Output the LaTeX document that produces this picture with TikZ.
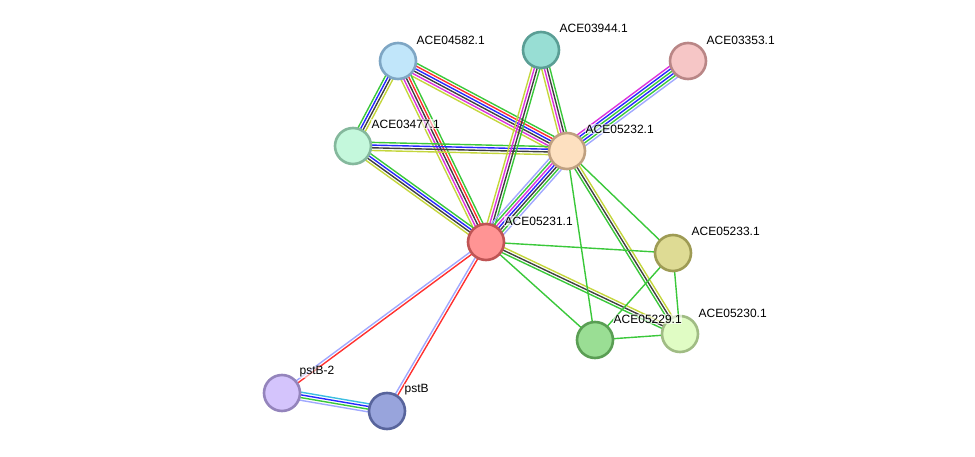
\documentclass[tikz,border=0pt]{standalone}
\usepackage{fontspec}
\setmainfont{Liberation Sans}
\usetikzlibrary{calc}
\pgfdeclarelayer{bg}\pgfsetlayers{bg,main}
\definecolor{cgreen}{RGB}{58,200,58}
\definecolor{cred}{RGB}{255,48,48}
\definecolor{cblue}{RGB}{40,40,255}
\definecolor{cblack}{RGB}{64,64,64}
\definecolor{cmag}{RGB}{220,50,220}
\definecolor{cyel}{RGB}{196,214,60}
\definecolor{cpur}{RGB}{160,168,255}
\definecolor{ccyan}{RGB}{60,190,225}
\tikzset{
  prot/.style={circle, minimum size=36pt, inner sep=0pt, line width=2.6pt},
  lab/.style={anchor=west, inner sep=0.5pt, fill=white, fill opacity=0.6, text opacity=1, font=\fontsize{12}{14}\selectfont},
  edge/.style={line width=1.4pt},
}
\newcommand\stredge[4]{%
  \foreach \c [count=\i] in {#4} {%
    \pgfmathsetmacro\off{((#3-1)/2-(\i-1))*2.7}%
    \draw[edge, draw=\c] ($(#1.center)!\off pt!90:(#2.center)$) -- ($(#2.center)!\off pt!-90:(#1.center)$);
  }}
\begin{document}
\begin{tikzpicture}[x=1pt,y=-1pt]
\useasboundingbox (0,0) rectangle (975,457);
\node[prot, fill={rgb,255:red,193;green,230;blue,250}, draw={rgb,255:red,126;green,166;blue,196}] (n04582) at (398,61) {};
\node[prot, fill={rgb,255:red,152;green,222;blue,212}, draw={rgb,255:red,90;green,158;blue,149}] (n03944) at (541,50) {};
\node[prot, fill={rgb,255:red,246;green,198;blue,198}, draw={rgb,255:red,185;green,134;blue,134}] (n03353) at (688,61) {};
\node[prot, fill={rgb,255:red,196;green,248;blue,220}, draw={rgb,255:red,132;green,184;blue,156}] (n03477) at (353,146) {};
\node[prot, fill={rgb,255:red,253;green,224;blue,192}, draw={rgb,255:red,191;green,160;blue,128}] (n05232) at (567,151) {};
\node[prot, fill={rgb,255:red,255;green,148;blue,148}, draw={rgb,255:red,191;green,84;blue,84}] (n05231) at (486,242) {};
\node[prot, fill={rgb,255:red,222;green,219;blue,148}, draw={rgb,255:red,158;green,155;blue,84}] (n05233) at (673,253) {};
\node[prot, fill={rgb,255:red,224;green,252;blue,196}, draw={rgb,255:red,160;green,188;blue,132}] (n05230) at (680,334) {};
\node[prot, fill={rgb,255:red,154;green,222;blue,148}, draw={rgb,255:red,90;green,158;blue,84}] (n05229) at (595,340) {};
\node[prot, fill={rgb,255:red,212;green,196;blue,252}, draw={rgb,255:red,148;green,132;blue,188}] (pstB2) at (282,393) {};
\node[prot, fill={rgb,255:red,152;green,164;blue,220}, draw={rgb,255:red,88;green,100;blue,156}] (pstB) at (387,411) {};
\begin{pgfonlayer}{bg}
\stredge{n04582}{n05232}{6}{cgreen,cred,cblue,cblack,cmag,cyel}
\stredge{n04582}{n05231}{5}{cgreen,cred,cblack,cmag,cyel}
\stredge{n04582}{n03477}{4}{cyel,cblack,cblue,cgreen}
\stredge{n03477}{n05232}{4}{cgreen,cblue,cblack,cyel}
\stredge{n03477}{n05231}{4}{cgreen,cblue,cblack,cyel}
\stredge{n03944}{n05231}{4}{cgreen,cblack,cmag,cyel}
\stredge{n03944}{n05232}{4}{cgreen,cblack,cmag,cyel}
\stredge{n05232}{n03353}{6}{cmag,cblue,cgreen,cblue,cgreen,cpur}
\stredge{n05231}{n05232}{7}{cpur,cgreen,cmag,cblue,cblack,cgreen,cpur}
\stredge{n05231}{n05230}{3}{cyel,cblack,cgreen}
\stredge{n05232}{n05230}{3}{cyel,cblack,cgreen}
\stredge{n05231}{pstB2}{2}{cred,cpur}
\stredge{n05231}{pstB}{2}{cred,cpur}
\stredge{pstB2}{pstB}{4}{ccyan,cblue,cgreen,cpur}
\draw[edge, cgreen] (n05232.center) -- (n05233.center);
\draw[edge, cgreen] (n05232.center) -- (n05229.center);
\draw[edge, cgreen] (n05231.center) -- (n05233.center);
\draw[edge, cgreen] (n05231.center) -- (n05229.center);
\draw[edge, cgreen] (n05233.center) -- (n05229.center);
\draw[edge, cgreen] (n05233.center) -- (n05230.center);
\draw[edge, cgreen] (n05229.center) -- (n05230.center);
\end{pgfonlayer}
\node[lab] (l04582) at (416,40) {ACE04582.1};
\node[lab] (l03944) at (559,28) {ACE03944.1};
\node[lab] (l03353) at (706,40) {ACE03353.1};
\node[lab] (l03477) at (371,124) {ACE03477.1};
\node[lab] (l05232) at (585,129) {ACE05232.1};
\node[lab] (l05231) at (504,221) {ACE05231.1};
\node[lab] (l05233) at (691,231) {ACE05233.1};
\node[lab] (l05230) at (698,313) {ACE05230.1};
\node[lab] (l05229) at (613,319) {ACE05229.1};
\node[lab] (lpstB2) at (299,372) {pstB-2};
\node[lab] (lpstB) at (404,390) {pstB};
\end{tikzpicture}
\end{document}
